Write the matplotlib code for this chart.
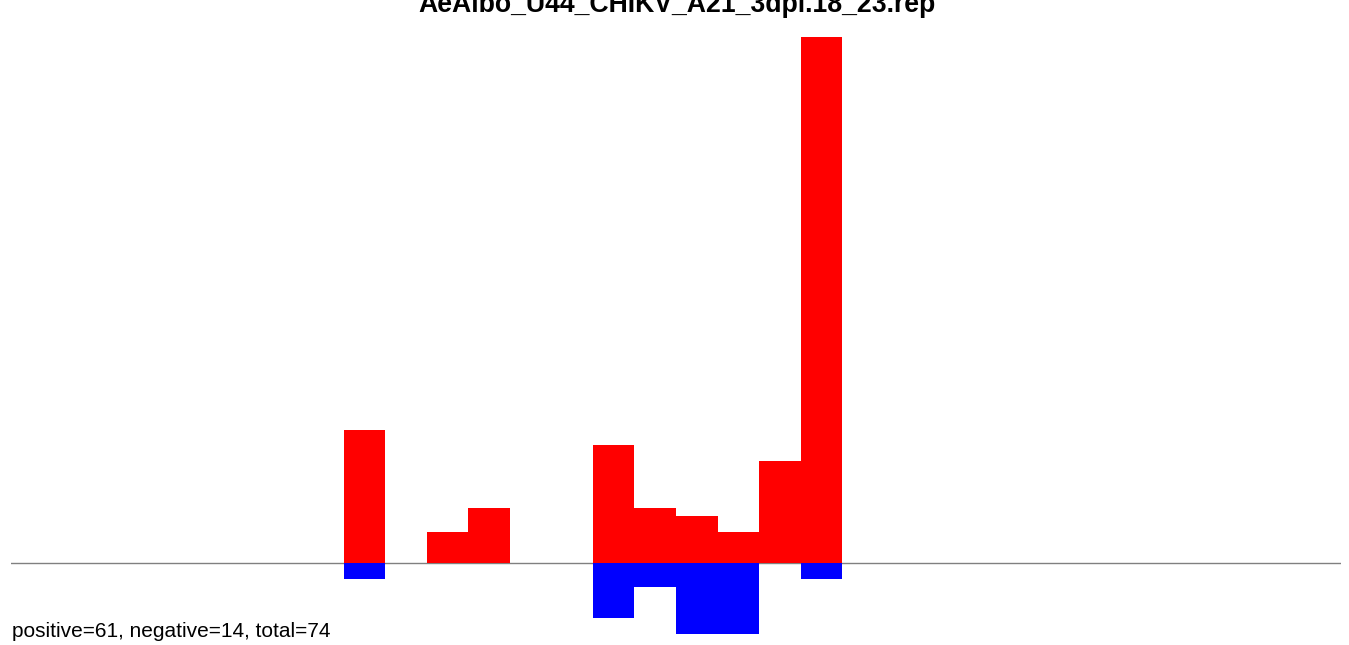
import matplotlib
matplotlib.use("Agg")
import matplotlib.pyplot as plt
import numpy as np

# read-length bins (32 slots), heights
title = "AeAlbo_U44_CHIKV_A21_3dpi.18_23.rep"
n_bins = 32
pos_bins = [8, 10, 11, 14, 15, 16, 17, 18, 19]
pos_vals = [133, 31, 55, 118, 55, 47, 31, 102, 526]
neg_bins = [8, 14, 15, 16, 17, 19]
neg_vals = [16, 55, 24, 71, 71, 16]
summary = "positive=61, negative=14, total=74"

plt.rcParams['font.family'] = ['Liberation Sans', 'DejaVu Sans']

W, H, DPI = 1349, 645, 100
fig = plt.figure(figsize=(W / DPI, H / DPI), dpi=DPI)
ax = fig.add_axes([11.5 / W, 0, 1329 / W, 1])

ax.axhline(0, color='#808080', lw=1, zorder=1)
ax.bar(pos_bins, pos_vals, width=1, align='edge', color='#ff0000', linewidth=0, zorder=2)
ax.bar(neg_bins, [-v for v in neg_vals], width=1, align='edge', color='#0000ff', linewidth=0, zorder=2)

ax.set_xlim(0, n_bins)
ax.set_ylim(-82, 563)
ax.axis('off')

# title sits partly above the top edge, as in the original
fig.text(676.5 / W, 1 - 12 / H, title, ha='center', va='baseline',
         fontsize=19.2, fontweight='bold')
fig.text(12 / W, 1 - 637 / H, summary, ha='left', va='baseline', fontsize=15)

fig.savefig("out.png", dpi=DPI)
